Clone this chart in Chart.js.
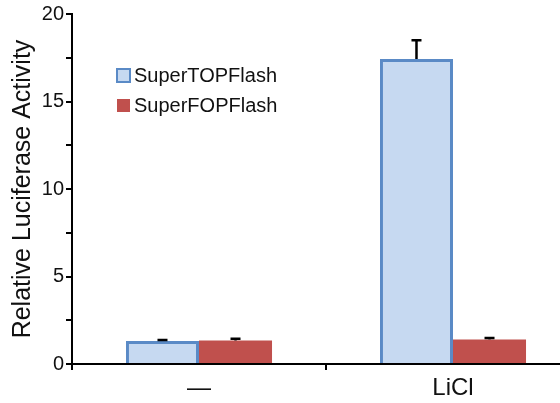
<!DOCTYPE html>
<html>
<head>
<meta charset="utf-8">
<script src="https://cdn.jsdelivr.net/npm/chart.js@4"></script>
<style>
  html, body { margin: 0; padding: 0; background: #fff; overflow: hidden; }
  #wrap { width: 584px; height: 403px; }
</style>
</head>
<body>
<div id="wrap"><canvas id="chart"></canvas></div>
<script>
// data
const categories = ['—', 'LiCl'];
const seriesNames = ['SuperTOPFlash', 'SuperFOPFlash'];
const topValues = [1.31, 17.43];
const fopValues = [1.35, 1.40];
const topErrors = [0.06, 1.07];
const fopErrors = [0.1, 0.09];

const FONT = 'Liberation Sans, Arial, sans-serif';
const blueFill = '#c6d9f1';
const blueBorder = '#5a8ac6';
const redFill = '#c0504d';

// upward-only error bars with a cap
const errorBars = {
  id: 'errorBars',
  afterDatasetsDraw(chart) {
    const ctx = chart.ctx;
    const y = chart.scales.y;
    chart.data.datasets.forEach((ds, i) => {
      const meta = chart.getDatasetMeta(i);
      meta.data.forEach((bar, j) => {
        const top = y.getPixelForValue(ds.data[j] + ds.errors[j]);
        ctx.save();
        ctx.strokeStyle = '#000';
        ctx.lineWidth = 2.5;
        ctx.beginPath();
        ctx.moveTo(bar.x, bar.y);
        ctx.lineTo(bar.x, top);
        ctx.moveTo(bar.x - 5, top);
        ctx.lineTo(bar.x + 5, top);
        ctx.stroke();
        ctx.restore();
      });
    });
  }
};

// legend box drawn inside the plot, top left
const insideLegend = {
  id: 'insideLegend',
  afterDraw(chart) {
    const ctx = chart.ctx;
    ctx.save();
    ctx.font = '20px ' + FONT;
    ctx.textBaseline = 'middle';
    chart.data.datasets.forEach((ds, i) => {
      const cy = 75.5 + i * 30;
      ctx.fillStyle = ds.backgroundColor;
      ctx.fillRect(117, cy - 6.5, 13, 13);
      if (ds.borderWidth) {
        ctx.strokeStyle = ds.borderColor;
        ctx.lineWidth = 2;
        ctx.strokeRect(117, cy - 6.5, 13, 13);
      }
      ctx.fillStyle = '#111';
      ctx.fillText(ds.label, 134, cy + 1);
    });
    ctx.restore();
  }
};

new Chart(document.getElementById('chart'), {
  type: 'bar',
  data: {
    labels: categories,
    datasets: [{
      label: seriesNames[0],
      data: topValues,
      errors: topErrors,
      backgroundColor: blueFill,
      borderColor: blueBorder,
      borderWidth: 3
    }, {
      label: seriesNames[1],
      data: fopValues,
      errors: fopErrors,
      backgroundColor: redFill,
      borderColor: redFill,
      borderWidth: 0
    }]
  },
  options: {
    responsive: true,
    maintainAspectRatio: false,
    animation: false,
    layout: { padding: { top: 12, right: 4, left: 0, bottom: 0 } },
    categoryPercentage: 0.575,
    barPercentage: 1.0,
    plugins: {
      legend: { display: false },
      tooltip: { enabled: false }
    },
    scales: {
      x: {
        grid: { drawOnChartArea: false, drawTicks: true, tickLength: 6, color: '#000', lineWidth: 2 },
        border: { color: '#000', width: 2 },
        ticks: { font: { family: FONT, size: 24 }, color: '#111', padding: 4 },
        afterFit(scale) { scale.height = 39; }
      },
      y: {
        min: 0,
        max: 20,
        grid: { drawOnChartArea: false, drawTicks: true, tickLength: 6, color: '#000', lineWidth: 2 },
        border: { color: '#000', width: 2 },
        ticks: {
          stepSize: 2.5,
          autoSkip: false,
          font: { family: FONT, size: 20 },
          color: '#111',
          padding: 2,
          callback: function(value) { return value % 5 === 0 ? value : ''; }
        },
        title: {
          display: true,
          text: 'Relative Luciferase Activity',
          font: { family: FONT, size: 25 },
          color: '#111',
          padding: { top: 8, bottom: 0 }
        },
        afterFit(scale) { scale.width = 72; }
      }
    }
  },
  plugins: [errorBars, insideLegend]
});
</script>
</body>
</html>
